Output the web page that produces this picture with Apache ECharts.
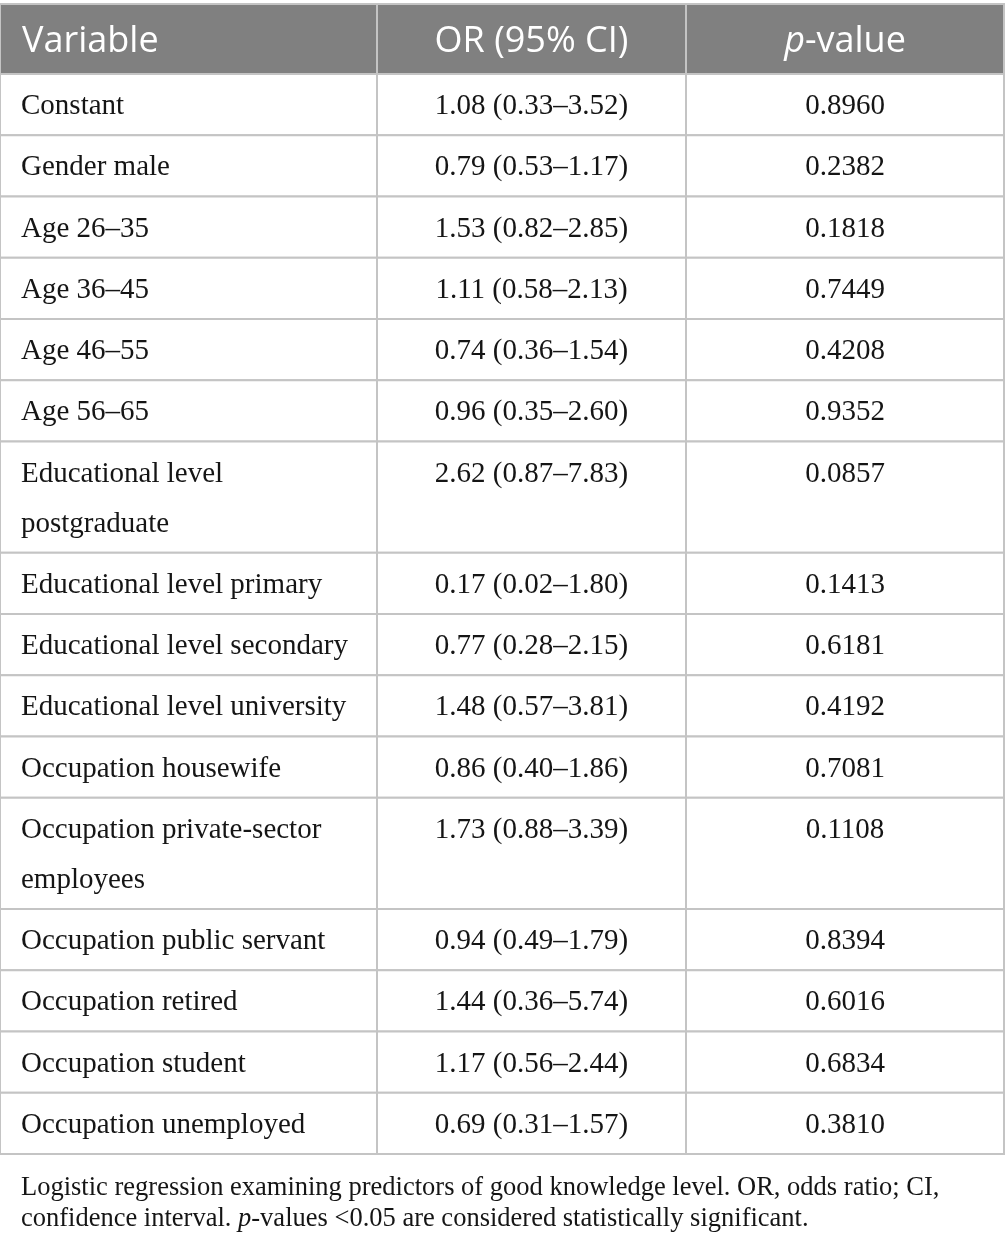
<!DOCTYPE html>
<html>
<head>
<meta charset="utf-8">
<script src="https://cdn.jsdelivr.net/npm/echarts@6/dist/echarts.min.js"></script>
<style>html,body{margin:0;padding:0;background:#fff}#c{width:1005px;height:1244px}</style>
</head>
<body>
<div id="c"></div>
<script>
// ---- data ----
const columns = ['Variable', 'OR (95% CI)', '{i|p}-value'];
const variables = [
  'Constant',
  'Gender male',
  'Age 26–35',
  'Age 36–45',
  'Age 46–55',
  'Age 56–65',
  'Educational level\npostgraduate',
  'Educational level primary',
  'Educational level secondary',
  'Educational level university',
  'Occupation housewife',
  'Occupation private-sector\nemployees',
  'Occupation public servant',
  'Occupation retired',
  'Occupation student',
  'Occupation unemployed'
];
const orCI = [
  '1.08 (0.33–3.52)',
  '0.79 (0.53–1.17)',
  '1.53 (0.82–2.85)',
  '1.11 (0.58–2.13)',
  '0.74 (0.36–1.54)',
  '0.96 (0.35–2.60)',
  '2.62 (0.87–7.83)',
  '0.17 (0.02–1.80)',
  '0.77 (0.28–2.15)',
  '1.48 (0.57–3.81)',
  '0.86 (0.40–1.86)',
  '1.73 (0.88–3.39)',
  '0.94 (0.49–1.79)',
  '1.44 (0.36–5.74)',
  '1.17 (0.56–2.44)',
  '0.69 (0.31–1.57)'
];
const pValues = [
  '0.8960', '0.2382', '0.1818', '0.7449', '0.4208', '0.9352', '0.0857',
  '0.1413', '0.6181', '0.4192', '0.7081', '0.1108', '0.8394', '0.6016',
  '0.6834', '0.3810'
];
const footnote = 'Logistic regression examining predictors of good knowledge level. OR, odds ratio; CI,\nconfidence interval. {i|p}-values <0.05 are considered statistically significant.';

// ---- layout / style ----
const colWidths = [377, 309, 318];
const headerH = 70;
const lineH = 50;
const pad = 5.625;
const textShift = 2;
const headerBg = '#808080';
const borderColor = '#c4c4c4';
const textColor = '#151515';
const serif = '"Liberation Serif", "DejaVu Serif", serif';
const sans = '"Open Sans", "Noto Sans", sans-serif';

const rowHeights = [headerH].concat(variables.map(v => 2 * pad + v.split('\n').length * lineH));
const rowTops = [];
let acc = 0;
rowHeights.forEach(h => { rowTops.push(acc); acc += h; });
const totalH = acc;
const totalW = colWidths.reduce((a, b) => a + b, 0);

const rows = rowHeights.map((_, i) => [i]);

function cellText(r, c) {
  if (r === 0) return columns[c];
  const k = r - 1;
  return c === 0 ? variables[k] : (c === 1 ? orCI[k] : pValues[k]);
}

const chart = echarts.init(document.getElementById('c'), null, {renderer: 'canvas'});
chart.setOption({
  animation: false,
  backgroundColor: '#fff',
  title: {
    text: footnote,
    left: 21,
    top: 1173,
    padding: 0,
    textStyle: {
      fontFamily: serif, fontSize: 26.5, lineHeight: 30.5, fontWeight: 'normal', color: textColor,
      rich: { i: { fontFamily: serif, fontSize: 26.5, lineHeight: 30.5, fontStyle: 'italic', color: textColor } }
    }
  },
  grid: { left: 0, right: 1005 - totalW, top: 4, bottom: 1244 - 4 - totalH },
  xAxis: { type: 'value', min: 0, max: totalW, show: false },
  yAxis: { type: 'value', min: 0, max: totalH, inverse: true, show: false },
  series: [{
    type: 'custom',
    clip: false,
    data: rows,
    encode: { x: -1, y: 0 },
    renderItem: function (params, api) {
      const r = api.value(0);
      const top = rowTops[r], h = rowHeights[r];
      const children = [];
      let x0 = 0;
      for (let c = 0; c < colWidths.length; c++) {
        const x1 = x0 + colWidths[c];
        const p0 = api.coord([x0, top]);
        const p1 = api.coord([x1, top + h]);
        children.push({
          type: 'rect',
          shape: { x: p0[0], y: p0[1], width: p1[0] - p0[0], height: p1[1] - p0[1] },
          style: { fill: r === 0 ? headerBg : '#fff', stroke: borderColor, lineWidth: 2 }
        });
        const isHeader = r === 0;
        const tx = c === 0 ? p0[0] + (isHeader ? 22 : 21) : (p0[0] + p1[0]) / 2;
        const font = isHeader ? sans : serif;
        const fs = isHeader ? 36 : 29;
        const col = isHeader ? '#ffffff' : textColor;
        const st = {
          text: cellText(r, c),
          x: tx,
          y: isHeader ? (p0[1] + p1[1]) / 2 + 3 : api.coord([x0, top + pad])[1] + textShift,
          align: c === 0 ? 'left' : 'center',
          verticalAlign: isHeader ? 'middle' : 'top',
          fontFamily: font,
          fontSize: fs,
          lineHeight: isHeader ? 40 : lineH,
          fill: col
        };
        if (isHeader) {
          st.rich = { i: { fontFamily: font, fontSize: fs, fontStyle: 'italic', fill: col, color: col, lineHeight: 40 } };
        }
        children.push({ type: 'text', style: st, z2: 10 });
        x0 = x1;
      }
      return { type: 'group', children: children };
    }
  }]
});
</script>
</body>
</html>
